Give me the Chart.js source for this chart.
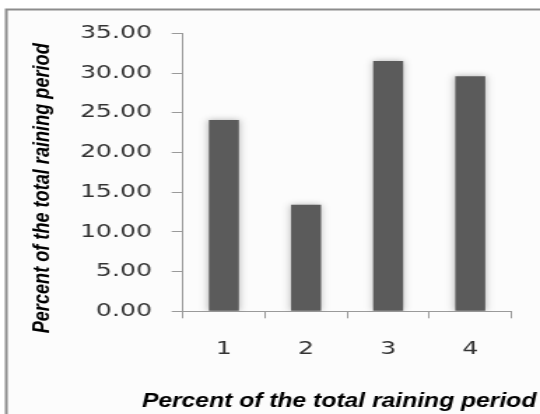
<!DOCTYPE html>
<html>
<head>
<meta charset="utf-8">
<script src="https://cdn.jsdelivr.net/npm/chart.js@4"></script>
<style>
  html, body { margin: 0; padding: 0; background: #fff; overflow: hidden; }
  /* the source picture is stretched sideways, so the whole chart is too */
  #wrap { width: 386px; height: 414px; transform: scaleX(1.399); transform-origin: 0 0; }
</style>
</head>
<body>
<div id="wrap"><canvas id="chart" width="386" height="414"></canvas></div>
<script>
const categories = ['1', '2', '3', '4'];
const values = [24.1, 13.4, 31.5, 29.6];
const yTicks = [0, 5, 10, 15, 20, 25, 30, 35];
const axisTitle = 'Percent of the total raining period';

const axisGray = '#9a9a9a';
const labelGray = '#333333';

// light background + grey frame around the plot
const framePlugin = {
    id: 'frame',
    beforeDraw(chart) {
        const ctx = chart.ctx;
        ctx.save();
        ctx.fillStyle = '#fcfcfc';
        ctx.fillRect(4, 9, chart.width, chart.height);
        ctx.strokeStyle = '#8c8c8c';
        ctx.lineWidth = 2;
        ctx.strokeRect(4.5, 9.5, chart.width + 20, chart.height + 20);
        ctx.restore();
    }
};

// soft glow around the bars
const shadowPlugin = {
    id: 'barShadow',
    beforeDatasetsDraw(chart) {
        const ctx = chart.ctx;
        ctx.save();
        ctx.shadowColor = 'rgba(0,0,0,0.3)';
        ctx.shadowBlur = 6;
    },
    afterDatasetsDraw(chart) {
        chart.ctx.restore();
    }
};

// draw text squeezed/stretched to a given length
function drawFitted(ctx, text, x, y, length, rotation) {
    const w = ctx.measureText(text).width;
    ctx.save();
    ctx.translate(x, y);
    ctx.rotate(rotation);
    ctx.scale(length / w, 1);
    ctx.fillText(text, 0, 0);
    ctx.restore();
}

const titlePlugin = {
    id: 'axisTitles',
    afterDraw(chart) {
        const { ctx, chartArea } = chart;
        ctx.save();
        ctx.fillStyle = '#000';
        ctx.textAlign = 'center';
        ctx.textBaseline = 'alphabetic';

        ctx.font = 'italic bold 20px "Liberation Sans"';
        drawFitted(ctx, axisTitle, chartArea.left + 111.7, chartArea.bottom + 95.4, 282, 0);

        ctx.font = 'italic bold 17px "Liberation Sans"';
        const midY = (chartArea.top + chartArea.bottom) / 2 + 16;
        drawFitted(ctx, axisTitle, 35.2, midY, 290, -Math.PI / 2);
        ctx.restore();
    }
};

const ctx = document.getElementById('chart').getContext('2d');
new Chart(ctx, {
    type: 'bar',
    data: {
        labels: categories,
        datasets: [{
            data: values,
            backgroundColor: '#5b5b5b',
            borderWidth: 0,
            barPercentage: 0.365,
            categoryPercentage: 1.0
        }]
    },
    options: {
        responsive: false,
        animation: false,
        layout: {
            padding: { top: 33.3, right: 20.5, bottom: 0, left: 0 }
        },
        plugins: {
            legend: { display: false },
            tooltip: { enabled: false }
        },
        scales: {
            x: {
                grid: {
                    offset: true,
                    drawOnChartArea: false,
                    drawTicks: true,
                    tickLength: 7,
                    color: axisGray
                },
                border: { color: axisGray, width: 1 },
                ticks: {
                    color: labelGray,
                    padding: 20,
                    font: { size: 18, family: "'DejaVu Sans', sans-serif" }
                },
                afterFit(scale) {
                    scale.height = 102.7;
                }
            },
            y: {
                min: yTicks[0],
                max: yTicks[yTicks.length - 1],
                afterBuildTicks(scale) {
                    scale.ticks = yTicks.map(v => ({ value: v }));
                },
                grid: {
                    drawOnChartArea: false,
                    drawTicks: true,
                    tickLength: 8,
                    color: axisGray
                },
                border: { color: axisGray, width: 1 },
                ticks: {
                    color: labelGray,
                    padding: 14,
                    font: { size: 18, family: "'DejaVu Sans', sans-serif" },
                    callback: v => Number(v).toFixed(2)
                },
                afterFit(scale) {
                    scale.width = 130.7;
                }
            }
        }
    },
    plugins: [framePlugin, shadowPlugin, titlePlugin]
});
</script>
</body>
</html>
